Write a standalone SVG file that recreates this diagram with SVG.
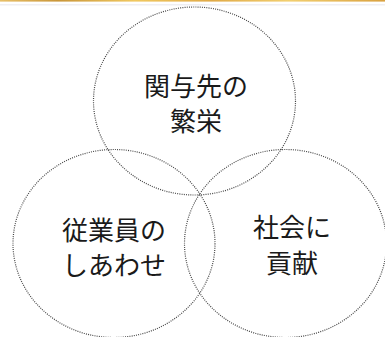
<svg xmlns="http://www.w3.org/2000/svg" width="385" height="337" viewBox="0 0 385 337">
  <defs>
    <linearGradient id="gold" x1="0" y1="0" x2="1" y2="0">
      <stop offset="0" stop-color="#e8c068"/>
      <stop offset="0.15" stop-color="#c9963a"/>
      <stop offset="0.35" stop-color="#f0c860"/>
      <stop offset="0.55" stop-color="#e0aa48"/>
      <stop offset="0.75" stop-color="#f2cf70"/>
      <stop offset="1" stop-color="#d9a140"/>
    </linearGradient>
    <style>
      .c { fill: none; stroke: #444; stroke-width: 1.2; stroke-dasharray: 1 1.2; }
      .t { font-family: "Noto Sans CJK JP", "Noto Sans CJK SC", sans-serif; font-size: 26px; fill: #1a1a1a; text-anchor: middle; }
    </style>
  </defs>
  <rect x="0" y="0" width="385" height="337" fill="#fff"/>
  <rect x="0" y="0" width="385" height="1.6" fill="url(#gold)"/>
  <rect x="0" y="4" width="385" height="1.5" fill="#efeff3"/>

  <g id="node-top">
    <ellipse class="c" cx="194.5" cy="101" rx="101" ry="94"/>
    <text class="t" x="196" y="96">関与先の</text>
    <text class="t" x="196" y="131">繁栄</text>
  </g>
  <g id="node-left">
    <ellipse class="c" cx="114" cy="243.5" rx="101" ry="94"/>
    <text class="t" x="114" y="240">従業員の</text>
    <text class="t" x="114" y="275">しあわせ</text>
  </g>
  <g id="node-right">
    <ellipse class="c" cx="285.5" cy="243.5" rx="101" ry="94"/>
    <text class="t" x="292" y="237">社会に</text>
    <text class="t" x="292" y="273">貢献</text>
  </g>
</svg>
